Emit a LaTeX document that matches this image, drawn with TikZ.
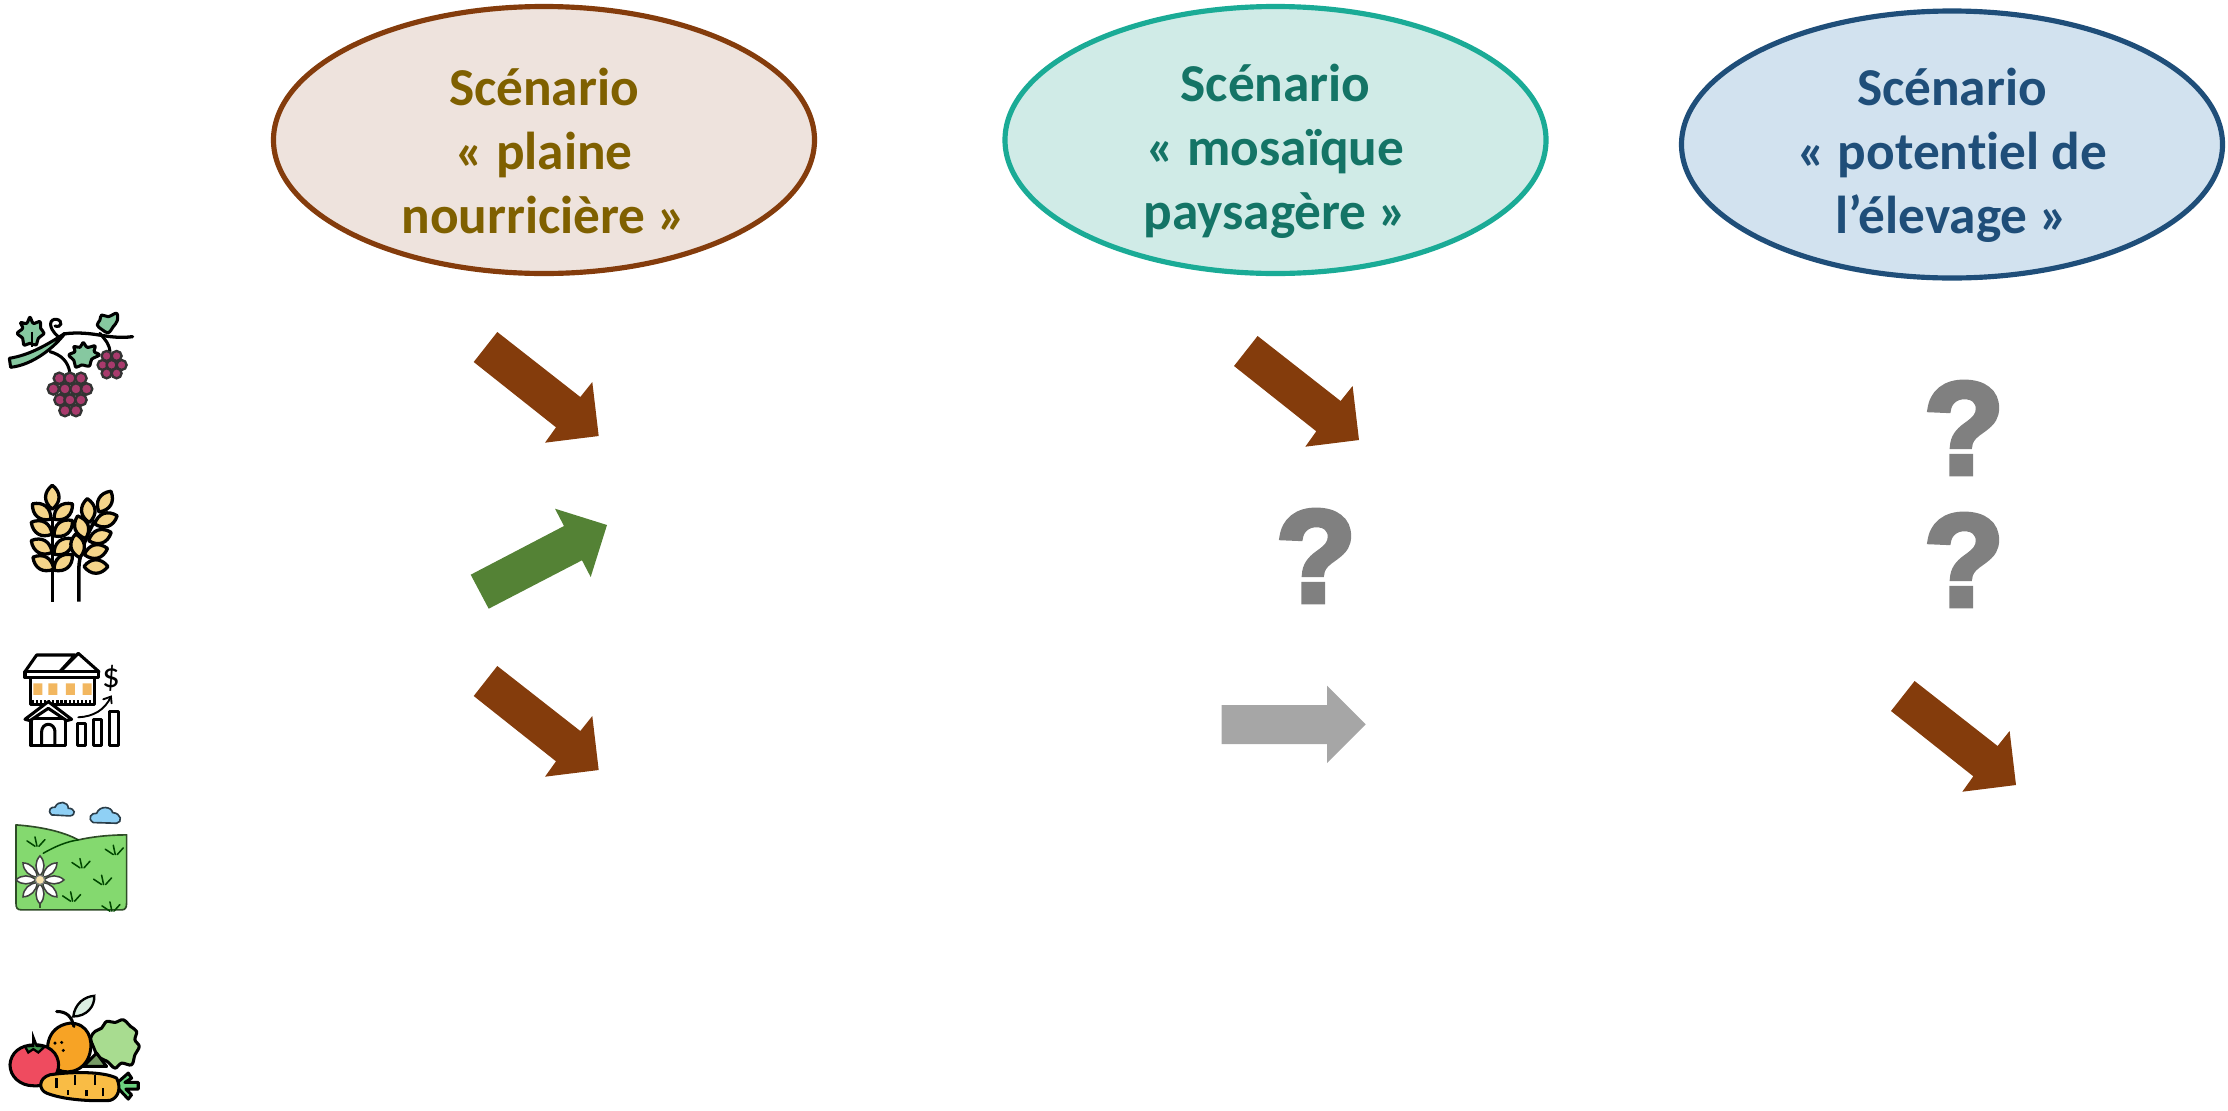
\documentclass[tikz,border=0pt]{standalone}
\usepackage{fontspec}
\usetikzlibrary{shapes.geometric}
\setmainfont{Carlito}[Ligatures=CommonOff]
\newfontface\qfont[FakeBold=4]{Liberation Sans Bold}
\definecolor{brun}{HTML}{843C0C}
\definecolor{brunfond}{HTML}{EEE3DD}
\definecolor{bruntxt}{HTML}{7F6000}
\definecolor{sarc}{HTML}{1AAB96}
\definecolor{sarcfond}{HTML}{D0EBE7}
\definecolor{sarctxt}{HTML}{147466}
\definecolor{bleu}{HTML}{1F4E79}
\definecolor{bleufond}{HTML}{D2E2EF}
\definecolor{vert}{HTML}{548235}
\definecolor{gris}{HTML}{A6A6A6}
\definecolor{qgris}{HTML}{808080}
\definecolor{feuille}{HTML}{86C8A0}
\definecolor{raisin}{HTML}{A83A6C}
\definecolor{ble}{HTML}{F5D58A}
\definecolor{fenetre}{HTML}{F2B760}
\definecolor{pre}{HTML}{84D96F}
\definecolor{nuage}{HTML}{8FD0F5}
\definecolor{tomate}{HTML}{EF4B5F}
\definecolor{orangef}{HTML}{F7A325}
\definecolor{salade}{HTML}{A8DC90}
\definecolor{carotte}{HTML}{F9BC45}
\tikzset{
  scen/.style={shape=ellipse,inner sep=0pt,minimum width=16.23cm,minimum height=8.01cm,line width=4.4pt},
  scentxt/.style={inner sep=0pt,align=center,font=\fontsize{45.5}{54.6}\selectfont\bfseries},
  qm/.style={text=qgris,inner sep=0pt,font=\fontsize{112}{112}\selectfont\qfont},
  ic/.style={line width=2.6pt,draw=black,line join=round,line cap=round},
  wk/.style={line width=2.8pt,draw=black,line join=round,fill=ble},
  gr/.style={line width=2pt,draw=black!80,fill=raisin},
  tuft/.style={line width=1.3pt,draw=black!60!green!70!black,line cap=round},
  bar/.style={ic,fill=white},
}
\newcommand{\brownarrow}[2]{\fill[brun,shift={(#1,#2)}] (497.3,332)--(580.3,397)--(592.3,382)--(598.7,436)--(545,442.7)--(556,427.3)--(473.7,362)--cycle;}
\newcommand{\wkn}[3]{\draw[wk,shift={(#1,#2)},rotate=#3] (-36,0) .. controls (-15,-27) and (15,-27) .. (36,0) .. controls (15,27) and (-15,27) .. (-36,0) -- cycle;}
\newcommand{\pet}[1]{\draw[line width=1.3pt,draw=black!75,fill=white,shift={(120,750)},rotate=#1] (12,0) .. controls (30,-16) and (55,-16) .. (72,0) .. controls (55,16) and (30,16) .. (12,0) -- cycle;}
\newcommand{\tft}[2]{\draw[tuft,shift={(#1,#2)}] (0,14)--(-24,-2) (6,14)--(0,-14) (12,14)--(30,-6);}
\begin{document}
\begin{tikzpicture}[x=0.03cm,y=-0.03cm]
\useasboundingbox (0,0) rectangle (2228,1110);
% scenario ellipses
\node[scen,draw=brun,fill=brunfond] (e1) at (544,140) {};
\node[scen,draw=sarc,fill=sarcfond] (e2) at (1275.5,140) {};
\node[scen,draw=bleu,fill=bleufond] (e3) at (1952,144.5) {};
\node[scentxt,text=bruntxt] (t1) at ([yshift=-0.33cm]e1.center) {Scénario\\« plaine\\nourricière »};
\node[scentxt,text=sarctxt] (t2) at ([yshift=-0.33cm]e2.center) {Scénario\\« mosaïque\\paysagère »};
\node[scentxt,text=bleu] (t3) at ([yshift=-0.33cm]e3.center) {Scénario\\« potentiel de\\l’élevage »};
% arrows
\brownarrow{0}{0}
\brownarrow{760.3}{4}
\brownarrow{0}{334}
\brownarrow{1417.3}{349}
\fill[vert] (470.7,574.7)--(564,526)--(555,508.7)--(607,525)--(590.7,577)--(582,560.3)--(488.7,608.7)--cycle;
\fill[gris] (1221.7,705)--(1327,705)--(1327,685.7)--(1365.7,724.3)--(1327,763)--(1327,744)--(1221.7,744)--cycle;
% question marks
\node[qm] (q1) at (1316,556) {?};
\node[qm] (q2) at (1964,428) {?};
\node[qm] (q3) at (1964,560) {?};
% grapes and wheat icons
\begin{scope}[shift={(0,290)},x=0.01cm,y=-0.01cm]
  \draw[line width=2.6pt,line cap=round] (300,130) .. controls (315,150) and (330,160) .. (330,190);
  \draw[line width=2.6pt,line cap=round] (150,185) .. controls (185,195) and (205,215) .. (210,250);
  \draw[line width=2.6pt,line cap=round] (175,140) .. controls (140,110) and (150,85) .. (170,88) .. controls (190,92) and (185,115) .. (165,108);
  \draw[line width=2.8pt,line cap=round] (190,132) .. controls (280,120) and (320,150) .. (398,140);
  \draw[ic,fill=feuille] (28,205) .. controls (90,195) and (140,165) .. (195,130) .. controls (165,170) and (100,225) .. (32,232) -- cycle;
  \draw[ic,fill=feuille] plot[smooth cycle,tension=.6] coordinates {(90,82) (100,100) (120,95) (122,115) (132,130) (115,145) (108,165) (90,160) (72,165) (68,145) (52,130) (68,115) (62,98) (80,100)};
  \draw[ic,fill=feuille] plot[smooth cycle,tension=.6] coordinates {(250,158) (262,172) (285,168) (283,185) (298,195) (275,208) (268,228) (245,225) (228,232) (222,212) (207,195) (225,185) (222,170) (240,172)};
  \draw[ic,fill=feuille] plot[smooth cycle,tension=.6] coordinates {(305,75) (325,80) (350,70) (352,92) (340,110) (325,128) (305,118) (292,105) (300,90)};
  \draw[line width=1.6pt] (95,125)--(95,170);
  \foreach \p/\q in {320/198,350/198,308/225,335/225,365/225,320/250,350/250} \draw[gr] (\p,\q) circle[radius=15];
  \foreach \p/\q in {178/265,210/265,243/265,160/297,195/297,228/297,260/297,180/330,210/330,243/330,195/362,228/362} \draw[gr] (\p,\q) circle[radius=17];
  % wheat
  \draw[line width=3pt] (158,935)--(158,680);
  \draw[line width=3pt] (237,935)--(237,830) .. controls (240,780) and (265,730) .. (285,690);
  \wkn{157}{622}{90}
  \wkn{125}{665}{-40}
  \wkn{190}{665}{40}
  \wkn{125}{715}{-30}
  \wkn{190}{715}{40}
  \wkn{125}{770}{-30}
  \wkn{190}{770}{40}
  \wkn{130}{820}{-30}
  \wkn{190}{818}{40}
  \wkn{315}{635}{60}
  \wkn{265}{662}{95}
  \wkn{245}{712}{110}
  \wkn{318}{690}{20}
  \wkn{300}{740}{20}
  \wkn{233}{768}{100}
  \wkn{288}{785}{15}
  \wkn{288}{830}{0}
\end{scope}
% house, meadow, vegetables icons
\begin{scope}[shift={(0,630)},x=0.01cm,y=-0.01cm]
  % house
  \draw[ic,fill=white] (92,143) rectangle (285,225);
  \draw[ic,fill=white] (75,125)--(110,75)--(225,75)--(180,125)--cycle;
  \draw[ic,fill=white] (180,125)--(235,70)--(297,125)--cycle;
  \draw[ic,fill=white] (75,125) rectangle (297,143);
  \fill[fenetre] (100,160) rectangle (127,195) (145,160) rectangle (172,195) (198,160) rectangle (225,195) (248,160) rectangle (275,195);
  \draw[line width=3.5pt,dash pattern=on 2pt off 1.5pt] (95,217)--(285,217);
  \draw[ic,fill=white] (93,265) rectangle (197,347);
  \draw[ic,fill=white] (75,268)--(145,215)--(215,268)--(200,272)--(145,235)--(90,272)--cycle;
  \draw[ic] (125,347)--(125,305) arc[start angle=180,end angle=360,x radius=20,y radius=22]--(165,347);
  \draw[bar] (232,282) rectangle (258,347);
  \draw[bar] (282,270) rectangle (306,347);
  \draw[bar] (330,245) rectangle (355,347);
  \draw[line width=1.6pt,line cap=round] (235,262) .. controls (280,260) and (315,240) .. (333,200);
  \draw[line width=1.6pt,line cap=round] (310,208)--(333,200)--(335,220);
  \node[inner sep=0pt,font=\fontsize{30}{30}\selectfont] (dollar) at (333,145) {\$};
  % meadow
  \draw[line width=1.4pt,draw=black!50!pre!70!black,fill=pre,line join=round] (48,585) .. controls (120,590) and (190,605) .. (235,630) .. controls (280,620) and (330,615) .. (380,615) -- (380,820) .. controls (380,835) and (375,840) .. (365,840) -- (65,840) .. controls (52,840) and (48,835) .. (48,820) -- cycle;
  \draw[tuft] (130,670) .. controls (165,650) and (200,635) .. (235,630);
  \tft{105}{635}
  \tft{240}{700}
  \tft{340}{660}
  \tft{305}{750}
  \tft{212}{800}
  \tft{330}{830}
  \draw[line width=1.5pt,draw=black!60!pre] (120,790)--(120,835);
  \foreach \a in {0,45,90,135,180,225,270,315} {\pet{\a}}
  \draw[line width=1pt,draw=black!50,fill=ble!70!white] (120,750) circle[radius=14];
  \draw[line width=1.4pt,draw=black!70!nuage,fill=nuage] (155,555) .. controls (140,540) and (155,530) .. (165,532) .. controls (175,510) and (205,515) .. (205,535) .. controls (225,535) and (230,555) .. (210,558) -- cycle;
  \draw[line width=1.4pt,draw=black!70!nuage,fill=nuage] (280,578) .. controls (260,565) and (275,548) .. (290,550) .. controls (300,525) and (335,530) .. (338,548) .. controls (365,550) and (368,578) .. (350,580) -- cycle;
  % vegetables
  \draw[ic,fill=salade] plot[smooth cycle,tension=.6] coordinates {(285,1205) (305,1195) (320,1175) (345,1178) (370,1170) (392,1190) (410,1205) (405,1230) (418,1250) (405,1275) (395,1305) (365,1300) (345,1315) (322,1295) (295,1280) (280,1250) (272,1225)};
  \draw[ic,fill=salade!70!black] (250,1310)--(290,1270)--(320,1310)--cycle;
  \draw[ic,fill=orangef] (210,1180) .. controls (265,1180) and (280,1230) .. (270,1270) .. controls (255,1330) and (190,1340) .. (160,1310) .. controls (130,1270) and (135,1190) .. (210,1180) -- cycle;
  \fill (165,1240) circle[radius=5] (185,1238) circle[radius=5] (190,1262) circle[radius=5];
  \draw[ic] (170,1145) .. controls (200,1145) and (215,1160) .. (222,1190);
  \draw[line width=2pt,fill=white!70!feuille] (220,1160) .. controls (225,1120) and (255,1100) .. (283,1098) .. controls (285,1130) and (260,1160) .. (220,1160) -- cycle;
  \draw[ic,fill=tomate] (105,1245) .. controls (165,1245) and (180,1290) .. (175,1315) .. controls (165,1360) and (130,1370) .. (100,1368) .. controls (60,1368) and (30,1340) .. (30,1305) .. controls (32,1270) and (60,1245) .. (105,1245) -- cycle;
  \draw[line width=2pt,fill=feuille!70!green!70!black] (75,1250)--(100,1248)--(100,1222)--(110,1248)--(135,1250)--(115,1268)--(100,1258)--(85,1268)--cycle;
  \draw[ic,fill=feuille!80!green] (345,1365)--(385,1330)--(395,1345)--(375,1358)--(415,1358)--(415,1378)--(378,1378)--(395,1395)--(385,1408)--cycle;
  \draw[ic,fill=carotte] (150,1335) .. controls (220,1325) and (310,1325) .. (350,1345) .. controls (365,1375) and (355,1405) .. (330,1412) .. controls (270,1415) and (190,1410) .. (140,1390) .. controls (115,1380) and (115,1345) .. (150,1335) -- cycle;
  \draw[line width=2pt] (170,1345)--(170,1375) (225,1335)--(225,1365) (285,1335)--(285,1365) (205,1395)--(205,1380) (260,1400)--(260,1380) (310,1400)--(310,1375);
\end{scope}
\end{tikzpicture}
\end{document}
